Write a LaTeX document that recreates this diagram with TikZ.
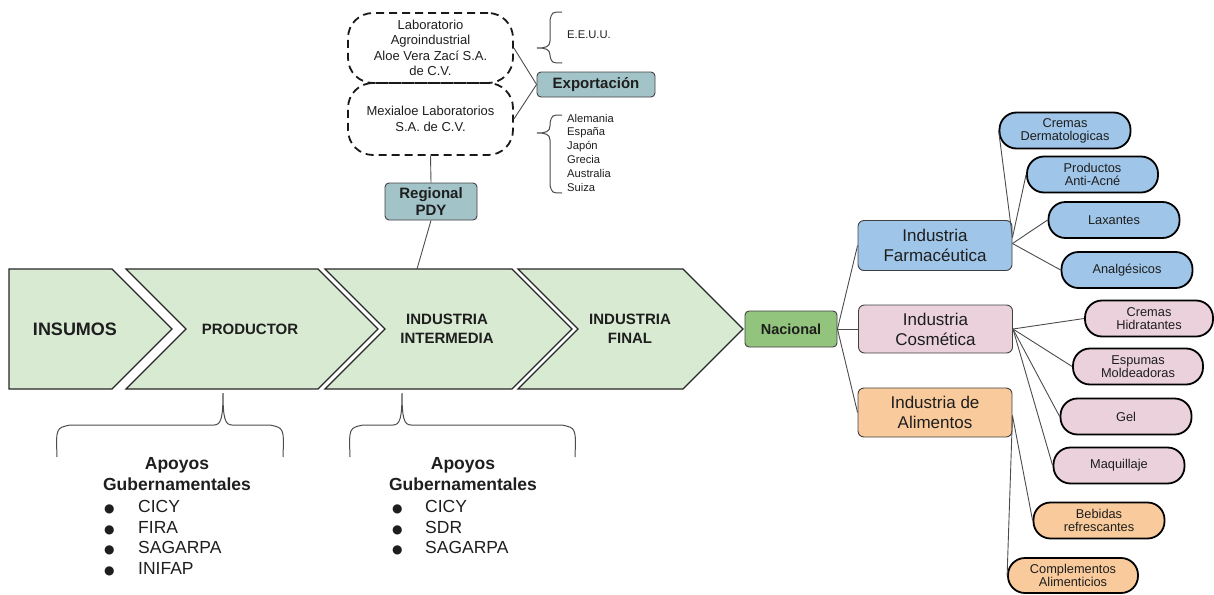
\documentclass[tikz,border=0pt]{standalone}
\usepackage{fontspec}
\setmainfont{Liberation Sans}
\newfontfamily\symfont{DejaVu Sans}
\usetikzlibrary{calc}
\definecolor{chevfill}{HTML}{D9EAD3}
\definecolor{natgreen}{HTML}{93C47D}
\definecolor{tealfill}{HTML}{A2C4C9}
\definecolor{farmblue}{HTML}{9FC5E8}
\definecolor{cospink}{HTML}{EAD1DC}
\definecolor{foodorange}{HTML}{F9CB9C}
\definecolor{ink}{HTML}{1E1E1E}
\newcommand\setfs[2]{\fontsize{#1}{#2}\selectfont}
\newcommand\bul{{\symfont\setfs{12}{12}●}}
\begin{document}
\begin{tikzpicture}[x=1pt,y=-1pt,
  every node/.style={inner sep=0pt, text=ink},
  chevron/.style={draw=black!85, fill=chevfill, line width=1.3pt, line join=miter},
  chevtext/.style={font=\bfseries\setfs{15}{19}, align=center},
  cloudbox/.style={draw=black!90, dash pattern=on 8pt off 5pt, line width=1.8pt,
    rounded corners=25pt, minimum width=165pt, align=center, font=\setfs{13}{15.5}},
  tealbox/.style={draw=black!75, fill=tealfill, rounded corners=4pt, line width=0.9pt,
    align=center, font=\bfseries\setfs{15}{17}},
  indbox/.style={draw=black!75, rounded corners=6pt, line width=0.9pt,
    minimum width=154pt, minimum height=50pt, align=center, font=\setfs{17}{20}},
  leaf/.style={draw=black, line width=1.8pt, rounded corners=17pt,
    minimum width=131pt, minimum height=36pt, align=center, font=\setfs{12.8}{13}},
  link/.style={draw=black!70, line width=0.9pt},
  bracket/.style={draw=black!70, line width=1pt},
  small/.style={font=\setfs{11.2}{13.8}, align=left},
  apoyo/.style={font=\bfseries\setfs{17.5}{21}},
  item/.style={font=\setfs{17.5}{21}, anchor=base west}]

\useasboundingbox (0,0) rectangle (1214,594);

% value chain chevrons
\path[chevron] (9,269) -- (112,269) -- (172,329) -- (112,389) -- (9,389) -- cycle;
\path[chevron] (126,269) -- (318,269) -- (378,329) -- (318,389) -- (126,389) -- (186,329) -- cycle;
\path[chevron] (325,269) -- (512,269) -- (572,329) -- (512,389) -- (325,389) -- (385,329) -- cycle;
\path[chevron] (518,269) -- (683,269) -- (743,329) -- (683,389) -- (518,389) -- (578,329) -- cycle;

\node[chevtext, font=\bfseries\setfs{18}{20}] (insumos) at (75,329) {INSUMOS};
\node[chevtext] (productor) at (250,329) {PRODUCTOR};
\node[chevtext] (intermedia) at (447,329) {INDUSTRIA\\INTERMEDIA};
\node[chevtext] (final) at (630,329) {INDUSTRIA\\FINAL};
\coordinate (chevtop) at (417,269);

% laboratories and export
\node[cloudbox, minimum height=70pt] (lab1) at (430.5,48)
  {Laboratorio\\Agroindustrial\\Aloe Vera Zací S.A.\\de C.V.};
\node[cloudbox, minimum height=72pt] (lab2) at (430.5,119)
  {Mexialoe Laboratorios\\S.A. de C.V.};
\node[tealbox, minimum width=118pt, minimum height=25pt] (export) at (596,84.5) {Exportación};
\node[tealbox, minimum width=92pt, minimum height=37pt] (regional) at (431,201.5) {Regional\\PDY};

\draw[link] (export.west) -- (lab1.east);
\draw[link] (export.west) -- (lab2.east);
\draw[link] (regional.north) -- (lab2.south);
\draw[link] (regional.south) -- (chevtop);

% destination countries
\draw[bracket] (562,12) .. controls (552,12) .. (550,20) -- (550,41)
  .. controls (550,47) and (545,48) .. (537,48)
  .. controls (545,48) and (550,49) .. (550,55) -- (550,56)
  .. controls (552,63) .. (562,63);
\node[small, anchor=west] (eeuu) at (567,35) {E.E.U.U.};
\draw[bracket] (562,115) .. controls (552,115) .. (550,123) -- (550,126)
  .. controls (550,132) and (545,133) .. (537,133)
  .. controls (545,133) and (550,134) .. (550,140) -- (550,185)
  .. controls (552,193) .. (562,193);
\node[small, anchor=west] (paises) at (567,152.5)
  {Alemania\\España\\Japón\\Grecia\\Australia\\Suiza};

% government support
\draw[bracket] (57,457) .. controls (56,428) .. (70,425) -- (214,425)
  .. controls (221,425) and (223,418) .. (223,393)
  .. controls (223,418) and (225,425) .. (232,425) -- (270,425)
  .. controls (284,428) .. (283,457);
\node[apoyo, anchor=base] (ap1a) at (177,469) {Apoyos};
\node[apoyo, anchor=base] (ap1b) at (177,490) {Gubernamentales};
\node[item] (ap1c) at (104,512) {\makebox[34pt][l]{\bul}CICY};
\node[item] (ap1d) at (104,533) {\makebox[34pt][l]{\bul}FIRA};
\node[item] (ap1e) at (104,553.5) {\makebox[34pt][l]{\bul}SAGARPA};
\node[item] (ap1f) at (104,574) {\makebox[34pt][l]{\bul}INIFAP};

\draw[bracket] (350,457) .. controls (349,428) .. (363,425) -- (393,425)
  .. controls (400,425) and (402,418) .. (402,393)
  .. controls (402,418) and (404,425) .. (411,425) -- (562,425)
  .. controls (576,428) .. (575,457);
\node[apoyo, anchor=base] (ap2a) at (463,469) {Apoyos};
\node[apoyo, anchor=base] (ap2b) at (463,490) {Gubernamentales};
\node[item] (ap2c) at (392,512) {\makebox[33pt][l]{\bul}CICY};
\node[item] (ap2d) at (392,533) {\makebox[33pt][l]{\bul}SDR};
\node[item] (ap2e) at (392,553.5) {\makebox[33pt][l]{\bul}SAGARPA};

% national market
\node[tealbox, fill=natgreen, font=\bfseries\setfs{14.5}{17}, minimum width=92pt, minimum height=36pt] (nacional) at (791,329) {Nacional};
\node[indbox, fill=farmblue] (farm) at (935,245.5) {Industria\\Farmacéutica};
\node[indbox, fill=cospink, minimum height=48pt] (cos) at (935.5,329) {Industria\\Cosmética};
\node[indbox, fill=foodorange, minimum height=49pt] (alim) at (935,412.5) {Industria de\\Alimentos};

\draw[link] (nacional.east) -- (farm.west);
\draw[link] (nacional.east) -- (cos.west);
\draw[link] (nacional.east) -- (alim.west);

\node[leaf, fill=farmblue] (derm) at (1065,130.5) {Cremas\\Dermatologicas};
\node[leaf, fill=farmblue] (acne) at (1092.5,174.5) {Productos\\Anti-Acné};
\node[leaf, fill=farmblue] (lax) at (1114,220) {Laxantes};
\node[leaf, fill=farmblue] (analg) at (1127,270) {Analgésicos};
\node[leaf, fill=cospink, minimum width=128pt] (hidr) at (1149,318.5) {Cremas\\Hidratantes};
\node[leaf, fill=cospink, minimum width=130pt] (esp) at (1138,366.5) {Espumas\\Moldeadoras};
\node[leaf, fill=cospink] (gel) at (1126,416.5) {Gel};
\node[leaf, fill=cospink] (maq) at (1119,465.5) {Maquillaje};
\node[leaf, fill=foodorange] (beb) at (1099,520.5) {Bebidas\\refrescantes};
\node[leaf, fill=foodorange, minimum width=130pt, minimum height=35pt] (comp) at (1073,575.5) {Complementos\\Alimenticios};

\coordinate (farmA) at ($(farm.east)+(0,-8)$);
\coordinate (farmB) at ($(farm.east)+(0,-2)$);
\coordinate (alimR) at ($(alim.east)+(0,3)$);
\draw[link] (farmA) -- (derm.west);
\draw[link] (farmA) -- (acne.west);
\draw[link] (farmB) -- (lax.west);
\draw[link] (farmB) -- (analg.west);
\draw[link] (cos.east) -- (hidr.west);
\draw[link] (cos.east) -- (esp.west);
\draw[link] (cos.east) -- (gel.west);
\draw[link] (cos.east) -- (maq.west);
\draw[link] (alimR) -- (beb.west);
\draw[link] (alimR) -- (comp.west);
\end{tikzpicture}
\end{document}
